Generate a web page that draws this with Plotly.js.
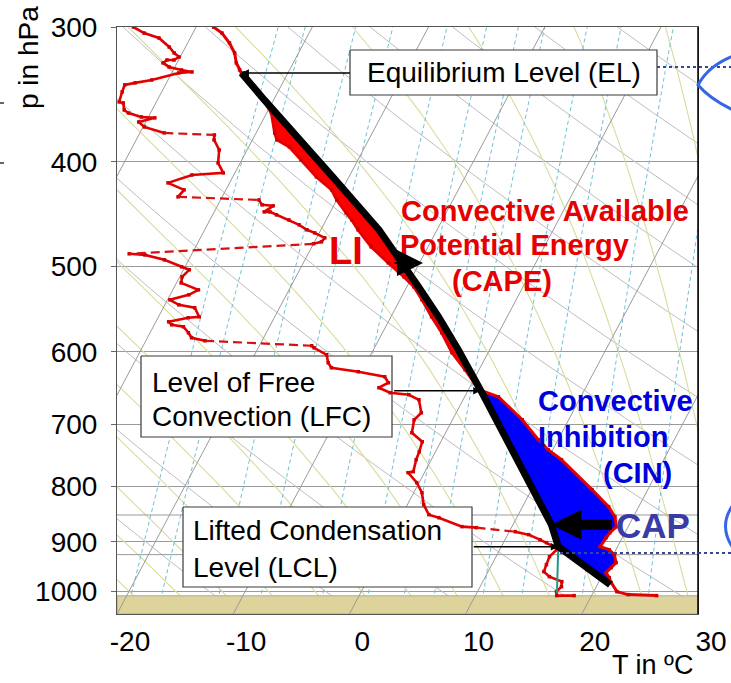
<!DOCTYPE html>
<html>
<head>
<meta charset="utf-8">
<script src="https://cdn.plot.ly/plotly-3.0.1.min.js"></script>
<style>
  html, body { margin: 0; padding: 0; background: #fff; }
  #chart { width: 731px; height: 683px; }
</style>
</head>
<body>
<div id="chart"></div>
<script>
// ---------------- Sounding data ----------------
// Environmental temperature (°C) by pressure (hPa)
const tempP = [300, 303.9, 310.4, 317.1, 323.9, 328.8, 330.9, 350.5, 360.4, 376.1, 381.7, 387.5, 398.4, 413.1,
  424.7, 433.9, 446.1, 452.8, 462.5, 479.6, 496.2, 505.9, 511.3, 522.3, 537.0, 556.8, 576.1, 601.3, 623.4, 650.6,
  660.4, 693.7, 723.9, 739.5, 755.4, 805.3, 835.0, 853.1, 871.4, 882.6, 892.1, 909.4, 915.3, 925.1, 941.0, 951.1,
  961.3, 971.6, 982.0, 1001.0, 1007.4, 1009.6];
const tempT = [-38.5, -37.5, -36.4, -35.5, -34.9, -34.3, -34.0, -30.9, -29.6, -28.4, -27.9, -26.5, -24.9, -22.8,
  -20.9, -20.0, -18.6, -17.8, -16.8, -14.9, -12.7, -11.4, -10.7, -9.4, -8.1, -6.5, -4.9, -3.1, -1.2, 0.9,
  2.9, 6.0, 8.3, 9.6, 11.2, 15.2, 17.4, 18.4, 19.0, 18.7, 18.6, 18.5, 19.4, 20.1, 20.6, 20.4,
  20.2, 20.7, 21.1, 22.0, 23.1, 25.6];

// Dew point (°C) by pressure (hPa)
const dewP = [300, 303.9, 307.1, 313.1, 317.1, 319.8, 321.9, 321.9, 323.9, 326.7, 328.8, 330.2, 330.9, 335.9,
  338.0, 339.5, 344.6, 352.0, 352.8, 358.1, 360.4, 363.5, 364.2, 367.4, 371.3, 376.1, 377.7, 381.7, 390.0,
  401.0, 409.6, 411.4, 418.4, 424.7, 431.1, 433.9, 438.5, 439.4, 445.1, 445.1, 448.0, 452.8, 457.6, 462.5,
  465.5, 470.5, 474.5, 476.5, 486.8, 487.9, 493.1, 500.5, 503.7, 511.3, 517.9, 525.7, 531.3, 537.0, 542.8,
  546.2, 556.8, 558.0, 562.8, 566.4, 568.8, 576.1, 582.3, 586.1, 592.3, 594.9, 603.8, 614.2, 620.8, 626.1,
  632.8, 641.0, 647.8, 654.8, 657.6, 664.7, 683.4, 693.7, 713.2, 727.0, 742.6, 755.4, 774.9, 776.6, 793.3,
  810.4, 831.5, 849.4, 854.9, 871.4, 873.3, 880.8, 886.4, 896.0, 901.7, 909.4, 915.3, 929.0, 945.0, 959.2,
  969.5, 979.9, 990.4, 1001.0, 1009.6, 1009.6];
const dewT = [-45.4, -44.2, -42.7, -41.4, -40.7, -40.1, -40.4, -41.0, -41.2, -40.5, -39.3, -38.3, -39.4, -41.4,
  -42.7, -43.5, -43.4, -43.2, -42.8, -42.4, -41.9, -40.6, -39.4, -40.6, -39.9, -37.9, -33.5, -33.3, -32.4,
  -31.9, -31.0, -33.6, -35.3, -33.6, -33.8, -26.7, -26.2, -25.2, -25.7, -25.2, -24.5, -23.2, -22.1, -21.2,
  -20.4, -19.3, -19.4, -20.0, -35.4, -34.0, -32.1, -30.3, -29.5, -29.8, -29.6, -27.8, -28.4, -29.8, -28.8,
  -27.3, -26.5, -27.4, -28.9, -28.5, -27.4, -26.7, -26.2, -24.9, -15.5, -15.2, -13.8, -13.3, -12.8, -10.3,
  -7.8, -7.2, -7.8, -6.6, -4.9, -3.8, -3.0, -3.3, -2.9, -1.6, -1.4, -1.3, -1.0, -1.4, -0.2,
  0.7, 1.4, 2.3, 3.3, 5.7, 7.0, 10.5, 11.8, 13.0, 13.7, 14.5, 14.9, 14.6, 14.7, 14.8,
  15.5, 16.8, 17.0, 16.8, 17.0, 18.5];
// Pressures where a gap in the dew point record begins (bridged with a dashed line)
const dewGapStart = [376.1, 431.1, 476.5, 586.1, 873.3];

// Lifted parcel (°C) by pressure (hPa), from its start level up to the EL
const parcelP = [986.2, 909.4, 867.7, 731.6, 654.8, 597.4, 556.8, 522.3, 493.1, 462.5, 413.1, 387.5, 376.1, 360.4, 350.5, 330.9];
const parcelT = [21.1, 14.9, 13.3, 6.1, 1.3, -2.7, -5.9, -9.0, -11.9, -15.0, -21.4, -25.1, -26.8, -29.1, -30.8, -34.0];

// Mixing-ratio line from the surface dew point up to the LCL
const lclMixP = [1004, 909.4];
const lclMixT = [16.9, 14.9];

// Characteristic levels
const levelEL = { p: 330.9, T: -34.0 };
const levelLFC = { p: 652, T: 1.1 };
const levelLCL = { p: 909.4, T: 14.9 };
const levelCAP = { p: 867.7, T: 13.3 };
const surfaceP = 1010;

// Axis ticks
const pTicks = [300, 400, 500, 600, 700, 800, 900, 1000];
const pExtraLevels = [850, 925];
const tTicks = [-20, -10, 0, 10, 20, 30];

// Reference-line families of the skew-T log-p diagram
const isothermT = [-50, -40, -30, -20, -10, 0, 10, 20, 30, 40];
const dryAdiabatTheta = [240, 250, 260, 270, 280, 290, 300, 310, 320, 330, 340, 350, 360, 370, 380, 390, 400];
const moistAdiabatT1000 = [-20, -16, -12, -8, -4, 0, 4, 8, 12, 16, 20, 24, 28, 32, 36];
const mixingRatioGkg = [0.8, 1, 1.5, 2, 3, 4, 5, 6, 8, 10, 14, 20];

// ---------------- Geometry ----------------
const W = 731, H = 683;
const M = { l: 117, r: 33, t: 27, b: 69 };
const PW = W - M.l - M.r, PH = H - M.t - M.b;
const X_RANGE = [-20, 30];
const P_BOTTOM = 1050, P_TOP = 300;
const SKEW = 21.4;               // isotherm slant, °C per unit of ln p
const FONT = 'Liberation Sans, Arial, Helvetica, sans-serif';

const sx = (T, p) => T + SKEW * Math.log(P_BOTTOM / p);
const lg = p => Math.log10(p);
// page pixel -> paper fraction
const px = x => (x - M.l) / PW;
const py = y => (M.t + PH - y) / PH;
// page pixel -> axis units (used for the white label boxes)
const axX = x => X_RANGE[0] + px(x) * (X_RANGE[1] - X_RANGE[0]);
const axP = y => Math.pow(10, lg(P_BOTTOM) + py(y) * (lg(P_TOP) - lg(P_BOTTOM)));

// ---------------- Reference lines ----------------
const guideP = [];
for (let p = P_BOTTOM; p >= P_TOP - 0.01; p -= 10) guideP.push(p);

function moistAdiabat(t1000) {
  const Rd = 287.04, cp = 1005.7, Lv = 2.501e6, eps = 0.622;
  const rate = (T, p) => {
    const es = 6.112 * Math.exp(17.67 * (T - 273.15) / (T - 29.65));
    const rs = eps * es / (p - es);
    return (Rd * T + Lv * rs) / (cp + Lv * Lv * rs * eps / (Rd * T * T)) / p;
  };
  const step = (T, p, dp) => {
    const k1 = rate(T, p);
    return T + rate(T + k1 * dp / 2, p + dp / 2) * dp;
  };
  const below = [];
  let T = t1000 + 273.15;
  for (let p = 1000; p < P_BOTTOM; p += 10) { T = step(T, p, 10); below.push([T - 273.15, p + 10]); }
  const above = [[t1000, 1000]];
  T = t1000 + 273.15;
  for (let p = 1000; p > P_TOP; p -= 10) { T = step(T, p, -10); above.push([T - 273.15, p - 10]); }
  return below.reverse().concat(above);
}

function familyTrace(lines, color, width, dash) {
  const x = [], y = [];
  lines.forEach(pts => {
    pts.forEach(([T, p]) => { x.push(sx(T, p)); y.push(p); });
    x.push(null); y.push(null);
  });
  return { type: 'scatter', mode: 'lines', x, y, line: { color, width, dash: dash || 'solid' }, hoverinfo: 'skip' };
}

const dryLines = dryAdiabatTheta.map(th => guideP.map(p => [th * Math.pow(p / 1000, 0.2857) - 273.15, p]));
const moistLines = moistAdiabatT1000.map(moistAdiabat);
const mixLines = mixingRatioGkg.map(w => guideP.map(p => {
  const e = p * w / (622 + w);
  const l = Math.log(e / 6.112);
  return [243.5 * l / (17.67 - l), p];
}));
const isoLines = isothermT.map(T => [[T, P_BOTTOM], [T, P_TOP]]);

// ---------------- Sounding traces ----------------
const pairs = (P, T) => P.map((p, i) => [T[i], p]);
const within = (P, T, lo, hi) => pairs(P, T).filter(([, p]) => p >= lo && p <= hi);
const polyTrace = (pts, color) => ({
  type: 'scatter', mode: 'lines', fill: 'toself', fillcolor: color,
  x: pts.map(([T, p]) => sx(T, p)), y: pts.map(([, p]) => p),
  line: { width: 0, color }, hoverinfo: 'skip'
});

// positive area: parcel warmer than environment between LFC and EL
const capeArea = within(tempP, tempT, levelEL.p, levelLFC.p + 3)
  .concat(within(parcelP, parcelT, levelEL.p, levelLFC.p + 3));
// negative area: environment warmer than parcel below the LFC
const cinArea = within(tempP, tempT, levelLFC.p - 2, parcelP[0])
  .concat(within(parcelP, parcelT, levelLFC.p - 2, parcelP[0]));

const dewSolid = { x: [], y: [] }, dewDash = { x: [], y: [] };
dewP.forEach((p, i) => {
  dewSolid.x.push(sx(dewT[i], p)); dewSolid.y.push(p);
  if (i < dewP.length - 1 && dewGapStart.includes(p)) {
    dewSolid.x.push(null); dewSolid.y.push(null);
    dewDash.x.push(sx(dewT[i], p), sx(dewT[i + 1], dewP[i + 1]), null);
    dewDash.y.push(p, dewP[i + 1], null);
  }
});

// white label boxes (sit above the reference lines, below the sounding)
const labelBoxes = [
  [350, 50, 657, 95],
  [141, 356, 392, 437],
  [183, 507, 472, 587]
];
const boxTraces = labelBoxes.map(([x0, y0, x1, y1]) => ({
  type: 'scatter', mode: 'lines', fill: 'toself', fillcolor: '#ffffff',
  x: [axX(x0), axX(x1), axX(x1), axX(x0), axX(x0)],
  y: [axP(y0), axP(y0), axP(y1), axP(y1), axP(y0)],
  line: { color: '#3a3a3a', width: 1.2 }, hoverinfo: 'skip'
}));

const RED = '#e40000';
const traces = [
  familyTrace(dryLines, '#bdbdbd', 1),
  familyTrace(moistLines, '#d9dc9c', 1.1),
  familyTrace(mixLines, '#6fc0d8', 1, '4px,3px'),
  {
    type: 'scatter', mode: 'lines', fill: 'toself', fillcolor: '#ddd39b',
    x: [X_RANGE[0], X_RANGE[1], X_RANGE[1], X_RANGE[0], X_RANGE[0]],
    y: [surfaceP, surfaceP, P_BOTTOM, P_BOTTOM, surfaceP],
    line: { color: '#a8a8a8', width: 1 }, hoverinfo: 'skip'
  },
  familyTrace(isoLines, '#9a9a9a', 1),
  {
    type: 'scatter', mode: 'lines',
    x: pExtraLevels.flatMap(() => [X_RANGE[0], X_RANGE[1], null]),
    y: pExtraLevels.flatMap(p => [p, p, null]),
    line: { color: '#9a9a9a', width: 1 }, hoverinfo: 'skip'
  },
  ...boxTraces,
  polyTrace(capeArea, '#ff0000'),
  polyTrace(cinArea, '#0000ff'),
  {
    type: 'scatter', mode: 'lines+markers', x: dewSolid.x, y: dewSolid.y,
    line: { color: RED, width: 2.6 }, marker: { color: '#d00000', size: 3.5, symbol: 'square' }, hoverinfo: 'skip'
  },
  {
    type: 'scatter', mode: 'lines', x: dewDash.x, y: dewDash.y,
    line: { color: '#d81010', width: 2.2, dash: '9px,5px' }, hoverinfo: 'skip'
  },
  {
    type: 'scatter', mode: 'lines+markers', x: tempP.map((p, i) => sx(tempT[i], p)), y: tempP,
    line: { color: RED, width: 3 }, marker: { color: '#d00000', size: 3.5, symbol: 'square' }, hoverinfo: 'skip'
  },
  {
    type: 'scatter', mode: 'lines', x: lclMixP.map((p, i) => sx(lclMixT[i], p)), y: lclMixP,
    line: { color: '#23968a', width: 2 }, hoverinfo: 'skip'
  },
  {
    type: 'scatter', mode: 'lines', x: parcelP.map((p, i) => sx(parcelT[i], p)), y: parcelP,
    line: { color: '#000000', width: 7 }, hoverinfo: 'skip'
  }
];

// ---------------- Annotations ----------------
const txt = (text, x, y, opts) => Object.assign({
  text, xref: 'paper', yref: 'paper', x: px(x), y: py(y),
  xanchor: 'left', yanchor: 'middle', showarrow: false,
  font: { family: FONT, size: 28, color: '#000' }
}, opts || {});
const pointer = (lv, ax, opts) => Object.assign({
  text: '', x: sx(lv.T, lv.p), y: lg(lv.p), xref: 'x', yref: 'y',
  showarrow: true, ax, ay: 0, arrowhead: 2, arrowsize: 1, arrowwidth: 1.5,
  arrowcolor: '#000', standoff: 0
}, opts || {});

const capeFont = { family: FONT, size: 29, color: '#e60000' };
const cinFont = { family: FONT, size: 29, color: '#0000dc' };

const annotations = [
  txt('p in hPa', 28, 58, { xanchor: 'center', textangle: -90 }),
  txt('T in ºC', 652, 682, { xanchor: 'center', yanchor: 'bottom', font: { family: FONT, size: 27, color: '#000' } }),
  txt('Equilibrium Level (EL)', 503.5, 73, { xanchor: 'center' }),
  txt('Level of Free', 150, 382),
  txt('Convection (LFC)', 150, 416),
  txt('Lifted Condensation', 191, 530),
  txt('Level (LCL)', 191, 567),
  txt('<b>Convective Available</b>', 399, 211, { font: capeFont }),
  txt('<b>Potential Energy</b>', 398, 245, { font: capeFont }),
  txt('<b>(CAPE)</b>', 450, 281, { font: capeFont }),
  txt('<b>LI</b>', 327, 251, { font: { family: FONT, size: 38, color: '#e60000' } }),
  txt('<b>Convective</b>', 536, 401, { font: cinFont }),
  txt('<b>Inhibition</b>', 536, 437, { font: cinFont }),
  txt('<b>(CIN)</b>', 601, 473, { font: cinFont }),
  txt('<b>CAP</b>', 614, 525, { font: { family: FONT, size: 35, color: '#3b3ba6' } }),
  pointer(levelEL, 110),
  pointer(levelLFC, -88),
  pointer(levelLCL, -86),
  pointer(levelCAP, 62, { arrowwidth: 10, arrowsize: 0.6 }),
  { text: '', xref: 'paper', yref: 'paper', x: px(423), y: py(263), ax: -30, ay: 0,
    showarrow: true, arrowhead: 2, arrowsize: 2.6, arrowwidth: 2, arrowcolor: '#000', standoff: 0 }
];

// ---------------- Shapes (frame and side markings) ----------------
const P = (x, y) => `${px(x)},${py(y)}`;
const shapes = [
  { type: 'line', xref: 'paper', yref: 'paper', x0: 1, x1: 1, y0: 0, y1: 1, line: { color: '#000', width: 1.5 } },
  { type: 'line', xref: 'paper', yref: 'paper', x0: px(657), x1: px(731), y0: py(67), y1: py(67),
    line: { color: '#34489a', width: 2.2, dash: 'dot' } },
  { type: 'path', xref: 'paper', yref: 'paper',
    path: `M ${P(733, 56)} Q ${P(708, 66)} ${P(698, 85)} Q ${P(710, 99)} ${P(733, 110)}`,
    line: { color: '#3466e6', width: 3 } },
  { type: 'line', xref: 'paper', yref: 'paper', x0: px(560), x1: px(731), y0: py(553), y1: py(553),
    line: { color: '#34489a', width: 2.2, dash: 'dot' } },
  { type: 'path', xref: 'paper', yref: 'paper',
    path: `M ${P(733, 505)} Q ${P(718, 526)} ${P(733, 548)}`,
    line: { color: '#3466e6', width: 3 } },
  { type: 'line', xref: 'paper', yref: 'paper', x0: px(0), x1: px(4), y0: py(103), y1: py(103), line: { color: '#333', width: 1.5 } },
  { type: 'line', xref: 'paper', yref: 'paper', x0: px(0), x1: px(4), y0: py(163), y1: py(163), line: { color: '#333', width: 1.5 } }
];

const layout = {
  width: W, height: H,
  margin: M,
  paper_bgcolor: '#ffffff', plot_bgcolor: '#ffffff',
  showlegend: false,
  font: { family: FONT, size: 28, color: '#000' },
  xaxis: {
    range: X_RANGE, tickvals: tTicks, ticktext: tTicks.map(String),
    ticks: '', showgrid: false, zeroline: false,
    showline: true, mirror: true, linecolor: '#555', linewidth: 1,
    tickfont: { family: FONT, size: 28, color: '#000' },
    ticklabelshift: 13, ticklabelstandoff: 2
  },
  yaxis: {
    type: 'log', range: [lg(P_BOTTOM), lg(P_TOP)],
    tickvals: pTicks, ticktext: pTicks.map(String),
    ticks: 'outside', ticklen: 5, tickcolor: '#666',
    showgrid: true, gridcolor: '#9a9a9a', gridwidth: 1, zeroline: false,
    showline: true, mirror: true, linecolor: '#555', linewidth: 1,
    tickfont: { family: FONT, size: 28, color: '#000' },
    ticklabelstandoff: 8
  },
  annotations, shapes
};

Plotly.newPlot('chart', traces, layout, { staticPlot: true, displayModeBar: false });
</script>
</body>
</html>
